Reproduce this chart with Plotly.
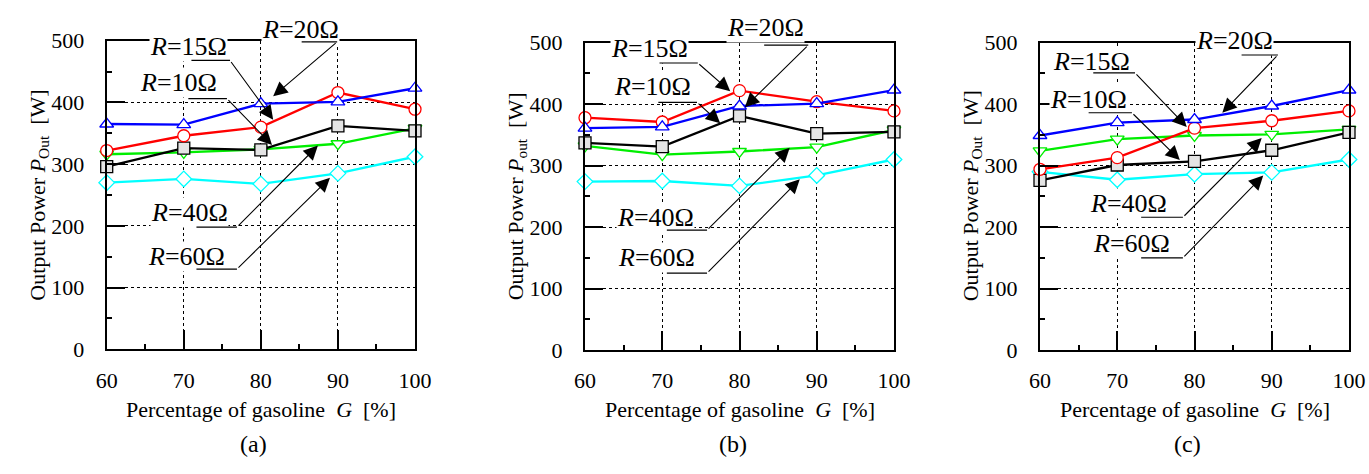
import plotly.graph_objects as go

G = [60, 70, 80, 90, 100]

a_R10 = [296, 326, 323, 362, 354]
a_R15 = [322, 346, 360, 416, 389]
a_R20 = [365, 364, 398, 401, 423]
a_R40 = [316, 319, 324, 333, 358]
a_R60 = [270, 276, 268, 285, 312]

b_R10 = [337, 331, 381, 352, 355]
b_R15 = [378, 371, 422, 404, 389]
b_R20 = [361, 363, 397, 401, 423]
b_R40 = [332, 318, 323, 330, 358]
b_R60 = [274, 275, 267, 284, 310]

c_R10 = [276, 301, 307, 325, 354]
c_R15 = [294, 313, 361, 373, 389]
c_R20 = [349, 370, 375, 397, 423]
c_R40 = [324, 343, 349, 351, 359]
c_R60 = [290, 277, 286, 289, 310]

panels = [
    {"R10": a_R10, "R15": a_R15, "R20": a_R20, "R40": a_R40, "R60": a_R60},
    {"R10": b_R10, "R15": b_R15, "R20": b_R20, "R40": b_R40, "R60": b_R60},
    {"R10": c_R10, "R15": c_R15, "R20": c_R20, "R40": c_R40, "R60": c_R60},
]
panel_letters = ["(a)", "(b)", "(c)"]
pout_sub = ["Out", "out", "Out"]

styles = {
    "R40": dict(color="#00ee00", symbol="triangle-down", fill="white"),
    "R60": dict(color="#00ffff", symbol="diamond", fill="white"),
    "R10": dict(color="#000000", symbol="square", fill="#e4e4e4"),
    "R15": dict(color="#ff0000", symbol="circle", fill="white"),
    "R20": dict(color="#0000ff", symbol="triangle-up", fill="white"),
}
label_text = {"R10": "<i>R</i>=10Ω", "R15": "<i>R</i>=15Ω", "R20": "<i>R</i>=20Ω",
              "R40": "<i>R</i>=40Ω", "R60": "<i>R</i>=60Ω"}

# label layout per panel: text centre, underline (x0, x1, y), arrow head (x, y) in data units
labels = [
    {
        "R20": ((85.2, 518), (85.1, 89.9, 498), (81.6, 410)),
        "R15": ((70.55, 490), (70.8, 76.0, 468), (81.6, 372)),
        "R10": ((69.3, 432), (70.4, 75.6, 406), (81.45, 331)),
        "R40": ((70.7, 221), (71.45, 76.9, 198), (87.4, 330)),
        "R60": ((70.3, 150), (71.45, 76.9, 130), (88.97, 278)),
    },
    {
        "R20": ((83.4, 525), (83.0, 88.9, 496), (80.7, 395)),
        "R15": ((68.4, 491), (69.45, 74.6, 467), (78.8, 421)),
        "R10": ((68.7, 428), (69.3, 74.5, 403), (77.5, 369)),
        "R40": ((69.1, 216), (70.4, 75.8, 195), (86.5, 329)),
        "R60": ((69.2, 150), (70.4, 75.8, 125), (87.8, 278)),
    },
    {
        "R20": ((85.2, 504), (85.9, 90.8, 480), (83.6, 386)),
        "R15": ((66.7, 469), (66.7, 72.3, 451), (79.0, 363)),
        "R10": ((66.3, 407), (66.1, 71.9, 386), (78.1, 309)),
        "R40": ((71.5, 239), (72.9, 78.5, 216), (88.7, 345)),
        "R60": ((71.9, 174), (72.9, 78.5, 150), (88.9, 284)),
    },
]

W, H = 1369, 474
x_dom = [(106.7, 415.0), (585.0, 894.0), (1040.0, 1349.0)]
y_dom = [(40.7, 349.3), (42.7, 350.0), (42.7, 350.0)]

FONT = "Liberation Serif"

fig = go.Figure()
layout = dict(width=W, height=H, margin=dict(l=0, r=0, t=0, b=0, autoexpand=False),
              paper_bgcolor="white", plot_bgcolor="white", showlegend=False,
              font=dict(family=FONT, color="black"))
annotations = []

for i, data in enumerate(panels):
    n = "" if i == 0 else str(i + 1)
    xa, ya = "x" + n, "y" + n
    for key in ["R40", "R60", "R10", "R15", "R20"]:
        st = styles[key]
        fig.add_trace(go.Scatter(
            x=G, y=data[key], xaxis=xa, yaxis=ya, mode="lines+markers",
            cliponaxis=False,
            line=dict(color=st["color"], width=2.3),
            marker=dict(symbol=st["symbol"], size=12, color=st["fill"],
                        line=dict(color=st["color"], width=1.3)),
        ))
    x0, x1 = x_dom[i]
    yt, yb = y_dom[i]
    ppu = (yb - yt) / 500.0  # pixels per watt
    common = dict(showline=True, mirror=True, linecolor="black", linewidth=2,
                  showgrid=True, gridcolor="black", gridwidth=1, griddash="3px,3px",
                  zeroline=False, ticks="inside", tickcolor="black", tickwidth=1.5,
                  automargin=False,
                  tickfont=dict(family=FONT, size=22, color="black"))
    layout["xaxis" + n] = dict(
        domain=[x0 / W, x1 / W], anchor=ya, range=[60, 100],
        tickvals=G, ticklen=19, ticklabelstandoff=10,
        minor=dict(ticks="inside", ticklen=5, dtick=5, tick0=0, tickcolor="black", showgrid=False),
        **common)
    layout["yaxis" + n] = dict(
        domain=[1 - yb / H, 1 - yt / H], anchor=xa, range=[0, 500],
        tickvals=[0, 100, 200, 300, 400, 500], ticklen=18, ticklabelstandoff=16,
        minor=dict(ticks="inside", ticklen=5, dtick=50, tick0=0, tickcolor="black", showgrid=False),
        **common)

    # axis titles and panel letter
    annotations.append(dict(
        text="Percentage of gasoline\u00a0\u00a0<i>G</i>\u00a0\u00a0[%]", xref=xa + " domain", yref="paper",
        x=0.5, y=1 - 424 / H, showarrow=False, font=dict(family=FONT, size=22)))
    annotations.append(dict(
        text=panel_letters[i], xref=xa + " domain", yref="paper",
        x=0.5, xshift=-7, y=1 - 459 / H, showarrow=False, font=dict(family=FONT, size=24)))
    annotations.append(dict(
        text="Output Power <i>P</i><sub>" + pout_sub[i] + "</sub>\u00a0\u00a0[W]",
        xref=xa + " domain", yref=ya + " domain", x=0, xshift=-84, y=0.5,
        textangle=-90, showarrow=False, font=dict(family=FONT, size=22)))

    lab = labels[i]
    # text labels with white boxes (anchor clamped inside the range, shifted in pixels)
    for key in ["R20", "R15", "R10", "R40", "R60"]:
        (tx, ty), (ux0, ux1, uy), (hx, hy) = lab[key]
        ya_pos = min(ty, 490)
        annotations.append(dict(
            text=label_text[key], xref=xa, yref=ya, x=tx, y=ya_pos, yshift=(ty - ya_pos) * ppu,
            showarrow=False, bgcolor="white", borderpad=0,
            font=dict(family=FONT, size=26, color="black")))
    # underlines and arrows
    for key in ["R20", "R15", "R10", "R40", "R60"]:
        (tx, ty), (ux0, ux1, uy), (hx, hy) = lab[key]
        annotations.append(dict(
            text="", xref=xa, yref=ya, x=ux1, y=uy, axref=xa, ayref=ya, ax=ux0, ay=uy,
            showarrow=True, arrowhead=0, arrowwidth=1.2, arrowcolor="black"))
        annotations.append(dict(
            text="", xref=xa, yref=ya, x=hx, y=hy, axref=xa, ayref=ya, ax=ux1, ay=uy,
            showarrow=True, arrowhead=2, arrowsize=2.6, arrowwidth=1.1, arrowcolor="black"))

layout["annotations"] = annotations
fig.update_layout(**layout)
fig.write_html(
    "out.html",
    config={"displayModeBar": False},
    post_script="document.body.style.margin='0';document.body.style.overflow='hidden';",
)
